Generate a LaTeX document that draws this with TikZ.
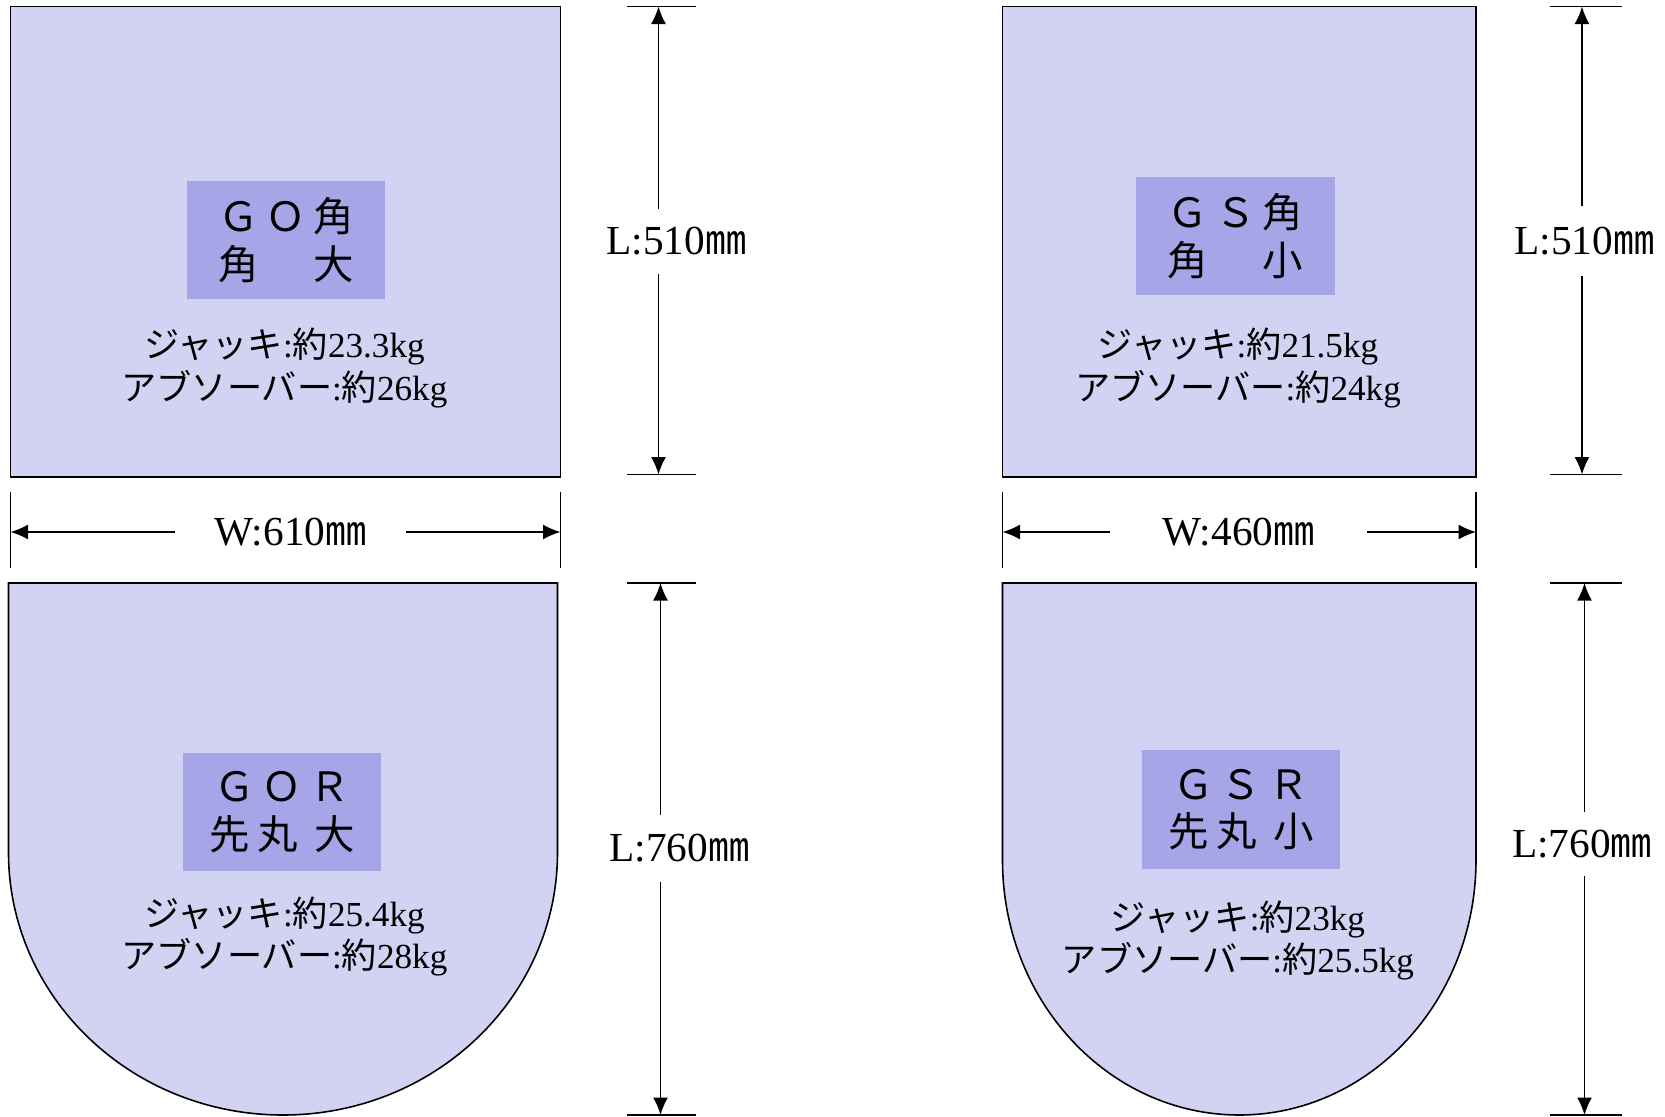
\documentclass[tikz,border=0pt]{standalone}
\usepackage{fontspec}
\setmainfont{Liberation Serif}
\newfontfamily\cjk{Noto Sans CJK JP}
\newfontfamily\cjkwide{Noto Sans CJK JP}[LetterSpace=18]
\usetikzlibrary{arrows.meta}

\definecolor{platefill}{RGB}{210,210,242}
\definecolor{tagfill}{RGB}{165,165,232}

\begin{document}
\begin{tikzpicture}[
    plate/.style={
        draw=black,
        fill=platefill,
        line width=0.9pt
    },
    tag/.style={
        rectangle,
        fill=tagfill,
        minimum width=3.97cm,
        minimum height=2.37cm,
        align=center,
        font=\cjkwide\fontsize{23}{27}\selectfont
    },
    weight/.style={
        align=center,
        font=\fontsize{20}{24}\selectfont
    },
    dimlabel/.style={
        inner sep=0pt,
        font=\fontsize{23.5}{27}\selectfont
    },
    dim/.style={
        -{Latex[length=3.5mm,width=3mm]},
        line width=0.9pt
    },
    tick/.style={
        line width=1.1pt
    }
]

\useasboundingbox (0,0) rectangle (33.3,-22.34);

% Plates
\draw[plate] (0.21,-0.13) rectangle (11.21,-9.54);
\draw[plate] (20.05,-0.13) rectangle (29.52,-9.54);
\draw[plate] (0.17,-11.66) -- (11.15,-11.66) -- (11.15,-17.05)
    arc[start angle=0, end angle=-180, x radius=5.49, y radius=5.25] -- cycle;
\draw[plate] (20.05,-11.66) -- (29.52,-11.66) -- (29.52,-17.2)
    arc[start angle=0, end angle=-180, x radius=4.735, y radius=5.1] -- cycle;

% Tags
\node[tag] (go) at (5.72,-4.80) {ＧＯ角\\角　大};
\node[tag] (gs) at (24.71,-4.72) {ＧＳ角\\角　小};
\node[tag] (gor) at (5.64,-16.24) {ＧＯＲ\\先丸 大};
\node[tag] (gsr) at (24.82,-16.19) {ＧＳＲ\\先丸 小};

% Weights
\node[weight] (go-kg) at (5.69,-7.36) {{\cjk ジャッキ}:{\cjk 約}23.3kg\\{\cjk アブソーバー}:{\cjk 約}26kg};
\node[weight] (gs-kg) at (24.76,-7.36) {{\cjk ジャッキ}:{\cjk 約}21.5kg\\{\cjk アブソーバー}:{\cjk 約}24kg};
\node[weight] (gor-kg) at (5.69,-18.73) {{\cjk ジャッキ}:{\cjk 約}25.4kg\\{\cjk アブソーバー}:{\cjk 約}28kg};
\node[weight] (gsr-kg) at (24.76,-18.81) {{\cjk ジャッキ}:{\cjk 約}23kg\\{\cjk アブソーバー}:{\cjk 約}25.5kg};

% Length dimensions
\draw[tick] (12.53,-0.13) -- (13.91,-0.13);
\draw[tick] (12.53,-9.49) -- (13.91,-9.49);
\draw[tick] (12.53,-11.66) -- (13.91,-11.66);
\draw[tick] (12.53,-22.30) -- (13.91,-22.30);
\draw[tick] (30.99,-0.13) -- (32.43,-0.13);
\draw[tick] (30.99,-9.49) -- (32.43,-9.49);
\draw[tick] (30.99,-11.66) -- (32.43,-11.66);
\draw[tick] (30.99,-22.30) -- (32.43,-22.30);

\coordinate (go-top) at (13.17,-0.13);
\coordinate (go-bot) at (13.17,-9.49);
\coordinate (gor-top) at (13.21,-11.66);
\coordinate (gor-bot) at (13.21,-22.30);
\coordinate (gs-top) at (31.64,-0.13);
\coordinate (gs-bot) at (31.64,-9.49);
\coordinate (gsr-top) at (31.69,-11.66);
\coordinate (gsr-bot) at (31.69,-22.30);

\node[dimlabel, minimum height=1.30cm] (go-len) at (13.53,-4.83) {L:510{\cjk ㎜}};
\node[dimlabel, minimum height=1.32cm] (gor-len) at (13.59,-16.97) {L:760{\cjk ㎜}};
\node[dimlabel, minimum height=1.40cm] (gs-len) at (31.69,-4.82) {L:510{\cjk ㎜}};
\node[dimlabel, minimum height=1.27cm] (gsr-len) at (31.64,-16.88) {L:760{\cjk ㎜}};

\draw[dim] (go-len.north -| go-top) -- (go-top);
\draw[dim] (go-len.south -| go-bot) -- (go-bot);
\draw[dim] (gor-len.north -| gor-top) -- (gor-top);
\draw[dim] (gor-len.south -| gor-bot) -- (gor-bot);
\draw[dim] (gs-len.north -| gs-top) -- (gs-top);
\draw[dim] (gs-len.south -| gs-bot) -- (gs-bot);
\draw[dim] (gsr-len.north -| gsr-top) -- (gsr-top);
\draw[dim] (gsr-len.south -| gsr-bot) -- (gsr-bot);

% Width dimensions
\draw[tick] (0.21,-9.83) -- (0.21,-11.36);
\draw[tick] (11.21,-9.83) -- (11.21,-11.36);
\draw[tick] (20.05,-9.83) -- (20.05,-11.36);
\draw[tick] (29.52,-9.83) -- (29.52,-11.36);

\coordinate (go-left) at (0.21,-10.64);
\coordinate (go-right) at (11.21,-10.64);
\coordinate (gs-left) at (20.05,-10.64);
\coordinate (gs-right) at (29.52,-10.64);

\node[dimlabel, minimum width=4.61cm] (go-wid) at (5.81,-10.64) {W:610{\cjk ㎜}};
\node[dimlabel, minimum width=5.12cm] (gs-wid) at (24.77,-10.64) {W:460{\cjk ㎜}};

\draw[dim] (go-wid.west) -- (go-left);
\draw[dim] (go-wid.east) -- (go-right);
\draw[dim] (gs-wid.west) -- (gs-left);
\draw[dim] (gs-wid.east) -- (gs-right);

\end{tikzpicture}
\end{document}
